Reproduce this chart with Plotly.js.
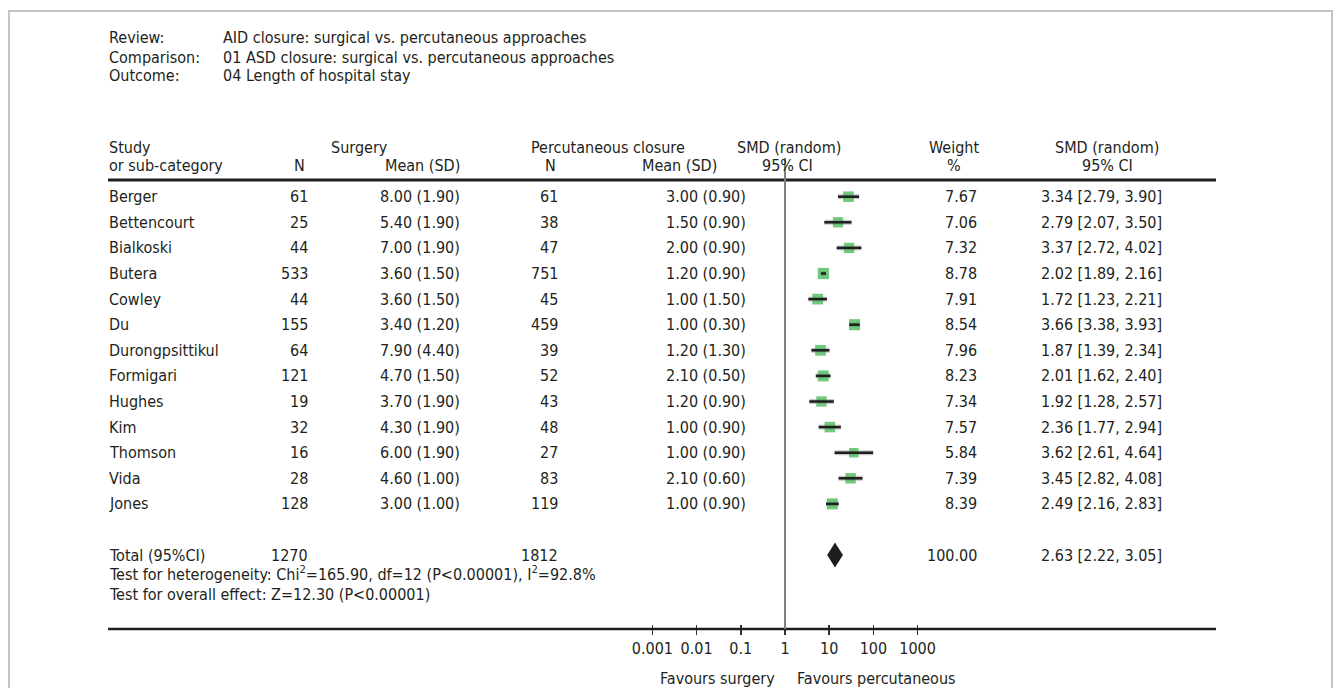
<!DOCTYPE html>
<html>
<head>
<meta charset="utf-8">
<script src="https://cdn.plot.ly/plotly-3.0.1.min.js"></script>
<style>html,body{margin:0;padding:0;background:#fff;}#chart{width:1335px;height:688px;}</style>
</head>
<body>
<div id="chart"></div>
<script>
// ---------- data ----------
var studies   = ['Berger','Bettencourt','Bialkoski','Butera','Cowley','Du','Durongpsittikul','Formigari','Hughes','Kim','Thomson','Vida','Jones'];
var surgN     = [61,25,44,533,44,155,64,121,19,32,16,28,128];
var surgMean  = [8.00,5.40,7.00,3.60,3.60,3.40,7.90,4.70,3.70,4.30,6.00,4.60,3.00];
var surgSD    = [1.90,1.90,1.90,1.50,1.50,1.20,4.40,1.50,1.90,1.90,1.90,1.00,1.00];
var percN     = [61,38,47,751,45,459,39,52,43,48,27,83,119];
var percMean  = [3.00,1.50,2.00,1.20,1.00,1.00,1.20,2.10,1.20,1.00,1.00,2.10,1.00];
var percSD    = [0.90,0.90,0.90,0.90,1.50,0.30,1.30,0.50,0.90,0.90,0.90,0.60,0.90];
var weight    = [7.67,7.06,7.32,8.78,7.91,8.54,7.96,8.23,7.34,7.57,5.84,7.39,8.39];
var smd       = [3.34,2.79,3.37,2.02,1.72,3.66,1.87,2.01,1.92,2.36,3.62,3.45,2.49];
var ciLow     = [2.79,2.07,2.72,1.89,1.23,3.38,1.39,1.62,1.28,1.77,2.61,2.82,2.16];
var ciHigh    = [3.90,3.50,4.02,2.16,2.21,3.93,2.34,2.40,2.57,2.94,4.64,4.08,2.83];
var totalSurgN = 1270, totalPercN = 1812, totalWeight = 100.00;
var totalSMD = 2.63, totalLow = 2.22, totalHigh = 3.05;
var tickLabels = ['0.001','0.01','0.1','1','10','100','1000'];
var headerLines = [['Review:','AID closure: surgical vs. percutaneous approaches'],
                   ['Comparison:','01 ASD closure: surgical vs. percutaneous approaches'],
                   ['Outcome:','04 Length of hospital stay']];
var heterogeneityText = 'Test for heterogeneity: Chi<sup>2</sup>=165.90, df=12 (P<0.00001), I<sup>2</sup>=92.8%';
var overallText = 'Test for overall effect: Z=12.30 (P<0.00001)';

// ---------- layout constants ----------
var W = 1335, H = 688;
var FONT = '"DejaVu Sans Condensed", "Liberation Sans", Arial, sans-serif';
var FS = 16, TXT = '#231f20';
var X0 = 785, KX = 19;          // pixel of SMD 0, pixels per SMD unit
var Y0 = 196.7, RH = 25.6;      // first row pixel, row height
var tickStep = 44.2 / KX;
function px(p){ return p / W; }
function py(p){ return 1 - p / H; }
function rowPix(i){ return Y0 + RH * i; }
var totalRow = studies.length + 1;

function f2(v){ return v.toFixed(2); }

var ann = [];
function txt(x, y, s, anchor, size){
  ann.push({xref:'paper', yref:'paper', x:px(x), y:py(y), text:s, showarrow:false,
            xanchor:anchor, yanchor:'middle', borderpad:0,
            font:{family:FONT, size:size||FS, color:TXT}});
}

// title block
var titleY = [38, 57, 76];
headerLines.forEach(function(l, i){
  txt(108, titleY[i], l[0], 'left');
  txt(222, titleY[i], l[1], 'left');
});

// column header
var hy1 = 147, hy2 = 165;
txt(108, hy1, 'Study', 'left');
txt(108, hy2, 'or sub-category', 'left');
txt(330, hy1, 'Surgery', 'left');
txt(299, hy2, 'N', 'center');
txt(461, hy2, 'Mean (SD)', 'right');
txt(686, hy1, 'Percutaneous closure', 'right');
txt(550, hy2, 'N', 'center');
txt(718, hy2, 'Mean (SD)', 'right');
txt(736, hy1, 'SMD (random)', 'left');
txt(761, hy2, '95% CI', 'left');
txt(954, hy1, 'Weight', 'center');
txt(954, hy2, '%', 'center');
txt(1107, hy1, 'SMD (random)', 'center');
txt(1107, hy2, '95% CI', 'center');

// study rows
studies.forEach(function(s, i){
  var y = rowPix(i);
  txt(108, y, s, 'left');
  txt(309, y, String(surgN[i]), 'right');
  txt(461, y, f2(surgMean[i]) + ' (' + f2(surgSD[i]) + ')', 'right');
  txt(559, y, String(percN[i]), 'right');
  txt(747, y, f2(percMean[i]) + ' (' + f2(percSD[i]) + ')', 'right');
  txt(978, y, f2(weight[i]), 'right');
  txt(1040, y, f2(smd[i]) + ' [' + f2(ciLow[i]) + ', ' + f2(ciHigh[i]) + ']', 'left');
});

// total row
var ty = rowPix(totalRow);
txt(108, ty, 'Total (95%CI)', 'left');
txt(309, ty, String(totalSurgN), 'right');
txt(559, ty, String(totalPercN), 'right');
txt(978, ty, f2(totalWeight), 'right');
txt(1040, ty, f2(totalSMD) + ' [' + f2(totalLow) + ', ' + f2(totalHigh) + ']', 'left');
txt(108, 573, heterogeneityText, 'left');
txt(108, 594, overallText, 'left');

// favours labels
txt(776, 678, 'Favours surgery', 'right');
txt(796, 678, 'Favours percutaneous', 'left');

// ---------- traces ----------
var yIdx = studies.map(function(s, i){ return i; });
var segX = [], segY = [];
for (var i = 0; i < studies.length; i++){
  segX.push(ciLow[i], ciHigh[i], null);
  segY.push(i, i, null);
}
var shadow = {x:segX, y:segY, mode:'lines', line:{color:'rgba(0,0,0,0.22)', width:5}, hoverinfo:'skip', showlegend:false};
var squares = {x:smd, y:yIdx, mode:'markers', marker:{symbol:'square', color:'#38b148',
  size:weight.map(function(w){ return 6 + 0.6 * w; }), line:{width:0}}, showlegend:false};
var ci = {x:segX, y:segY, mode:'lines', line:{color:'#1e1e1e', width:2.5}, hoverinfo:'skip', showlegend:false};
var dh = 12.5 / RH;
var diamond = {x:[totalLow, totalSMD, totalHigh, totalSMD, totalLow],
               y:[totalRow, totalRow - dh, totalRow, totalRow + dh, totalRow],
               mode:'lines', fill:'toself', fillcolor:'#1e1e1e', line:{width:0, color:'#1e1e1e'}, showlegend:false};

var tickVals = tickLabels.map(function(t, i){ return (i - 3) * tickStep; });

var layout = {
  width:W, height:H, margin:{l:0, r:0, t:0, b:0, pad:0},
  paper_bgcolor:'#fff', plot_bgcolor:'rgba(0,0,0,0)', showlegend:false,
  xaxis:{range:[-X0 / KX, (W - X0) / KX], domain:[0,1], anchor:'free', position:py(629),
    showgrid:false, zeroline:false, showline:false, ticks:'outside', ticklen:5, tickwidth:1.5, tickcolor:'#333',
    tickvals:tickVals, ticktext:tickLabels, tickfont:{family:FONT, size:FS, color:TXT}, fixedrange:true},
  xaxis2:{overlaying:'x', matches:'x', anchor:'free', position:py(629), showgrid:false, zeroline:false, showline:false,
    ticks:'inside', ticklen:4, tickwidth:1.5, tickcolor:'#333', tickvals:tickVals, showticklabels:false},
  yaxis:{range:[(H - Y0) / RH, -Y0 / RH], domain:[0,1], visible:false, fixedrange:true},
  annotations:ann,
  shapes:[
    {type:'rect', xref:'paper', yref:'paper', x0:px(9), x1:px(1332), y0:-0.05, y1:py(11), line:{color:'#c4c4c4', width:2}, layer:'below'},
    {type:'line', xref:'paper', yref:'paper', x0:px(108), x1:px(1216), y0:py(180), y1:py(180), line:{color:'#1e1e1e', width:3}},
    {type:'line', xref:'paper', yref:'paper', x0:px(108), x1:px(1216), y0:py(629), y1:py(629), line:{color:'#1e1e1e', width:2.5}},
    {type:'line', xref:'x', yref:'paper', x0:0, x1:0, y0:py(629), y1:py(158), line:{color:'#808080', width:2}}
  ]
};
var dummy = {x:[0], y:[0], xaxis:'x2', mode:'markers', marker:{opacity:0}, hoverinfo:'skip', showlegend:false};
Plotly.newPlot('chart', [shadow, squares, ci, diamond, dummy], layout, {staticPlot:true, displayModeBar:false});
</script>
</body>
</html>
